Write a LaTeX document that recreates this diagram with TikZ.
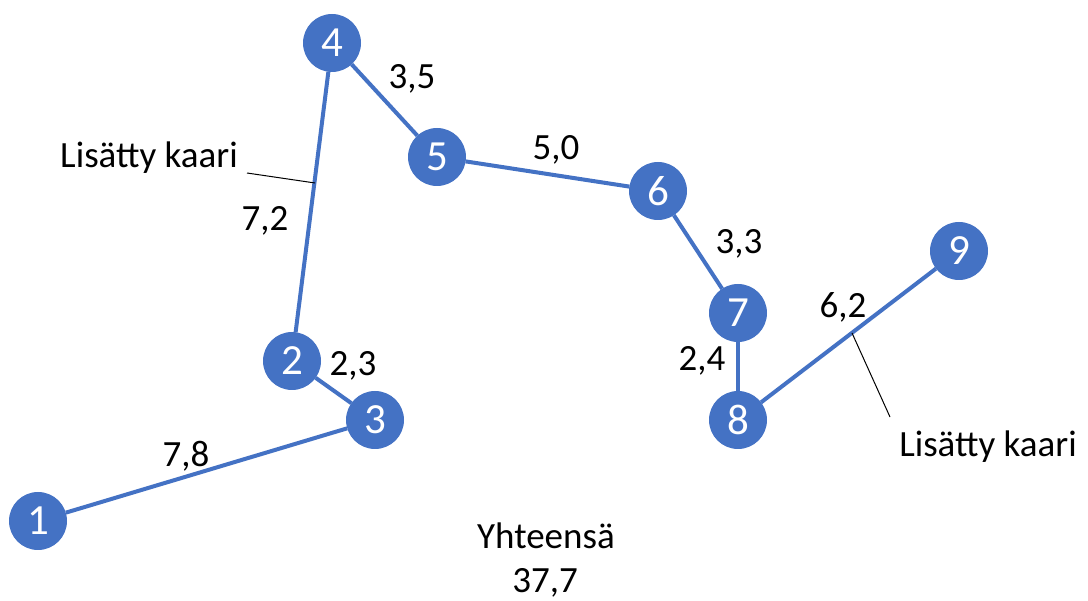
\documentclass[tikz,border=0pt]{standalone}
\usepackage{fontspec}
\setmainfont{Carlito}
\begin{document}
\begin{tikzpicture}[x=1pt,y=-1pt,
  vert/.style={circle,fill=vblue,draw=none,minimum size=58pt,inner sep=0pt,outer sep=0pt,
    text=white,font=\fontsize{43}{46}\selectfont},
  edge/.style={draw=vblue,line width=4pt},
  lbl/.style={font=\fontsize{37}{40}\selectfont,inner sep=0pt},
  callout/.style={draw=black,line width=1pt}]
\definecolor{vblue}{HTML}{4472C4}
\useasboundingbox (0,0) rectangle (1088,601);
\node[vert] (n1) at (38,521) {1};
\node[vert] (n2) at (292,361) {2};
\node[vert] (n3) at (375,420) {3};
\node[vert] (n4) at (332,43) {4};
\node[vert] (n5) at (437,157) {5};
\node[vert] (n6) at (658,191) {6};
\node[vert] (n7) at (738,313) {7};
\node[vert] (n8) at (738,420) {8};
\node[vert] (n9) at (959,251) {9};
\path[edge] (n1) -- (n3);
\path[edge] (n3) -- (n2);
\path[edge] (n2) -- (n4);
\path[edge] (n4) -- (n5);
\path[edge] (n5) -- (n6);
\path[edge] (n6) -- (n7);
\path[edge] (n7) -- (n8);
\path[edge] (n8) -- (n9);
\node[lbl] (l78) at (186,456) {7,8};
\node[lbl] (l23) at (353,366) {2,3};
\node[lbl] (l72) at (265,221) {7,2};
\node[lbl] (l35) at (412,79) {3,5};
\node[lbl] (l50) at (556,150) {5,0};
\node[lbl] (l33) at (739,244) {3,3};
\node[lbl] (l24) at (702,361) {2,4};
\node[lbl] (l62) at (843,307) {6,2};
\node[lbl] (lk1) at (149,158) {Lisätty kaari};
\node[lbl] (lk2) at (988,447) {Lisätty kaari};
\node[lbl,anchor=base] (tot1) at (546,549) {Yhteensä};
\node[lbl,anchor=base] (tot2) at (545,593) {37,7};
\coordinate (c1a) at (247,173);
\coordinate (c1b) at (315,183);
\coordinate (c2a) at (852,333);
\coordinate (c2b) at (890,417);
\draw[callout] (c1a) -- (c1b);
\draw[callout] (c2a) -- (c2b);
\end{tikzpicture}
\end{document}
